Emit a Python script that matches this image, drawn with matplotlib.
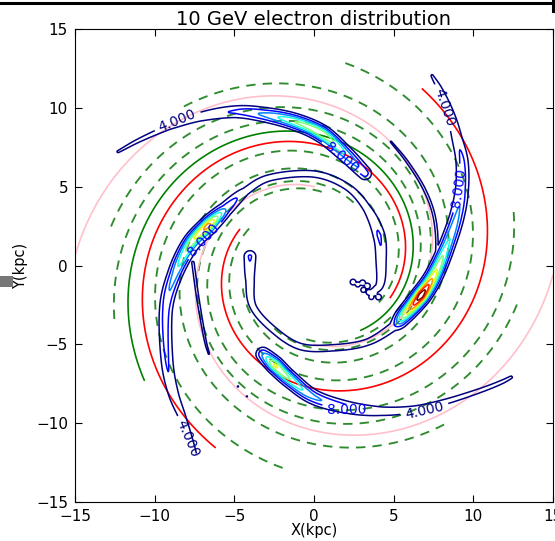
import numpy as np
import matplotlib
matplotlib.use("Agg")
import matplotlib.pyplot as plt
from matplotlib.patches import Rectangle
from matplotlib.lines import Line2D

# ---------------- spiral-arm model: theta(r) = theta0 + k ln(r / r0) ----------------
arm_k, arm_r0 = 5.0, 4.9                    # pitch shared by red, green and dashed arms
red_theta0 = [137.0, -40.0]                 # deg
red_rmin, red_rmax = 5.2, 13.1
green_theta0 = -63.0
green_rmin, green_rmax = 5.05, 12.9
dash_theta0 = [162.0, 96.0, 70.0, 30.0, -18.0, -84.0, -110.0, -150.0]
dash_rmin, dash_rmax = 4.7, 13.0

pink_k, pink_r0 = 4.25, 5.0
pink_theta0 = [-90.0, 90.0]
pink_rmin, pink_rmax = 5.0, 15.0

# ---------------- electron density ridges (kpc) with ridge values ----------------
e1_x = [3.55, 4.14, 4.21, 4.08, 3.33, 2.07, 0.00, -2.76, -4.33, -5.59, -6.65, -7.78, -8.73, -9.29, -9.23, -8.85, -8.22, -7.41]
e1_y = [-1.75, -1.20, 0.25, 1.90, 3.61, 5.00, 5.80, 5.57, 4.68, 3.54, 2.53, 1.33, -0.57, -2.78, -5.95, -8.04, -9.75, -12.09]
e1_a = [4.6, 5.5, 7.0, 8.6, 5.5, 5.0, 5.0, 5.0, 5.5, 12.0, 30.0, 22.0, 14.0, 10.0, 8.5, 7.0, 5.2, 4.1]

e2_x = [-4.02, -4.02, -3.83, -2.57, -0.88, 1.19, 3.33, 5.00, 5.65, 6.72, 7.53, 8.35, 8.98, 9.29, 9.29, 8.98, 8.60, 7.97, 7.41]
e2_y = [0.57, -0.89, -2.59, -4.05, -5.13, -5.22, -4.87, -3.86, -3.17, -1.90, -0.63, 1.27, 3.17, 4.88, 6.59, 8.05, 9.51, 11.03, 12.04]
e2_a = [8.5, 6.0, 5.0, 5.0, 5.0, 5.0, 5.0, 6.0, 22.0, 40.0, 26.0, 17.0, 13.0, 10.0, 9.0, 7.0, 5.5, 4.6, 4.1]

e3_x = [3.20, 1.95, 0.50, -1.19, -3.08, -4.96, -7.16, -9.04, -10.92, -12.30]
e3_y = [5.85, 7.10, 8.35, 9.11, 9.56, 9.75, 9.43, 8.80, 7.97, 7.22]
e3_a = [10.0, 16.0, 24.0, 20.0, 13.0, 8.5, 6.0, 4.6, 4.3, 4.1]

e4_x = [-3.20, -2.45, -1.51, 0.00, 2.07, 4.21, 6.28, 8.35, 10.48, 11.74, 12.37]
e4_y = [-5.63, -6.33, -7.22, -8.35, -8.99, -9.24, -9.11, -8.61, -7.91, -7.41, -7.09]
e4_a = [12.0, 25.0, 20.0, 13.0, 9.0, 6.0, 5.0, 4.6, 4.4, 4.3, 4.15]

r1_x = [4.83, 5.84, 6.90, 7.53, 7.72, 7.53, 7.22]
r1_y = [7.85, 6.59, 4.88, 3.17, 1.27, -0.19, -1.90]
r1_a = [4.1, 4.25, 4.3, 4.3, 4.3, 4.4, 6.0]

r2_x = [-7.60, -7.28, -6.84, -6.60]
r2_y = [0.19, -2.15, -4.68, -5.60]
r2_a = [4.3, 4.3, 4.2, 4.1]

# ragged patch at the inner end of the first ridge
knot_x = [2.45, 2.75, 3.05, 3.35, 3.10, 3.45, 3.80, 4.05, 3.60, 3.90]
knot_y = [-1.05, -1.20, -1.10, -1.30, -1.55, -1.70, -1.75, -2.00, -2.00, -1.45]
knot_a = [6.0, 5.5, 6.0, 6.0, 5.5, 6.0, 6.0, 6.0, 5.5, 6.0]
# isolated specks along the lower-left pink arm
speck_x = [-4.77, -4.21]
speck_y = [-7.67, -8.30]
speck_a = [4.25, 4.25]

levels = [4, 8, 12, 16, 20, 24, 28, 32, 36]

# anchor points for the 4.000 and 8.000 labels
lab4_pos = [(-8.54, 9.11), (8.20, 10.05), (-7.97, -11.0), (7.00, -9.45)]
lab8_pos = [(1.76, 6.90), (9.05, 4.90), (-7.16, 1.90), (2.07, -8.99)]


def spiral(k, r0, th0, rmin, rmax, n=700):
    r = np.linspace(rmin, rmax, n)
    th = np.deg2rad(th0) + k * np.log(r / r0)
    return r * np.cos(th), r * np.sin(th)


def smooth_track(xs, ys, amps, per_seg=40, step=0.02):
    """Catmull-Rom path through the ridge points, resampled by arc length."""
    P = np.column_stack([xs, ys]).astype(float)
    P = np.vstack([2 * P[0] - P[1], P, 2 * P[-1] - P[-2]])
    t = np.linspace(0, 1, per_seg, endpoint=False)[:, None]
    pts, us = [], []
    for i in range(1, len(P) - 2):
        p0, p1, p2, p3 = P[i - 1], P[i], P[i + 1], P[i + 2]
        seg = 0.5 * (2 * p1 + (-p0 + p2) * t + (2 * p0 - 5 * p1 + 4 * p2 - p3) * t ** 2
                     + (-p0 + 3 * p1 - 3 * p2 + p3) * t ** 3)
        pts.append(seg)
        us.append(i - 1 + t[:, 0])
    pts.append(P[-2][None, :]); us.append(np.array([len(xs) - 1.0]))
    pts = np.vstack(pts); us = np.concatenate(us)
    s = np.concatenate([[0.0], np.cumsum(np.hypot(*np.diff(pts, axis=0).T))])
    ss = np.linspace(0, s[-1], max(int(s[-1] / step), 2))
    px = np.interp(ss, s, pts[:, 0]); py = np.interp(ss, s, pts[:, 1])
    pa = np.interp(np.interp(ss, s, us), np.arange(len(xs)), amps)
    return px, py, pa


# density grid
n = 601
gx = np.linspace(-15, 15, n)
GX, GY = np.meshgrid(gx, gx)
Z = np.zeros_like(GX)
dg = gx[1] - gx[0]


def add_ridge(px, py, pa, w):
    half = int(4 * w / dg) + 1
    for x0, y0, a0 in zip(px, py, pa):
        i0 = int(round((y0 + 15) / dg)); j0 = int(round((x0 + 15) / dg))
        i1, i2 = max(i0 - half, 0), min(i0 + half + 1, n)
        j1, j2 = max(j0 - half, 0), min(j0 + half + 1, n)
        sub = a0 * np.exp(-((GX[i1:i2, j1:j2] - x0) ** 2 + (GY[i1:i2, j1:j2] - y0) ** 2) / (2 * w * w))
        Z[i1:i2, j1:j2] = np.maximum(Z[i1:i2, j1:j2], sub)


for tx, ty, ta, w in [(e1_x, e1_y, e1_a, 0.30), (e2_x, e2_y, e2_a, 0.30),
                      (e3_x, e3_y, e3_a, 0.30), (e4_x, e4_y, e4_a, 0.30),
                      (r1_x, r1_y, r1_a, 0.20), (r2_x, r2_y, r2_a, 0.20)]:
    add_ridge(*smooth_track(tx, ty, ta), w)
add_ridge(np.array(knot_x), np.array(knot_y), np.array(knot_a), 0.20)
add_ridge(np.array(speck_x), np.array(speck_y), np.array(speck_a), 0.12)

# ---------------- figure ----------------
plt.rcParams['font.family'] = ['DejaVu Sans']
fig = plt.figure(figsize=(5.55, 5.41), dpi=100)
ax = fig.add_axes([75 / 555, 1 - 502 / 541, 478 / 555, 473 / 541])

dash = (0, (5.0, 3.8))
for th0 in dash_theta0:
    ax.plot(*spiral(arm_k, arm_r0, th0, dash_rmin, dash_rmax), color='#2e8b2e', lw=1.35, linestyle=dash)
for th0 in pink_theta0:
    ax.plot(*spiral(pink_k, pink_r0, th0, pink_rmin, pink_rmax), color='pink', lw=1.2)
for th0 in red_theta0:
    ax.plot(*spiral(arm_k, arm_r0, th0, red_rmin, red_rmax), color='red', lw=1.2)
ax.plot(*spiral(arm_k, arm_r0, green_theta0, green_rmin, green_rmax), color='green', lw=1.2)

# contours: the two labelled levels on their own, the rest together
jet = plt.get_cmap('jet')
lev_colors = [jet(i / (len(levels) - 1)) for i in range(len(levels))]
cs4 = ax.contour(GX, GY, Z, levels=[levels[0]], colors=[lev_colors[0]], linewidths=1.1)
cs8 = ax.contour(GX, GY, Z, levels=[levels[1]], colors=[lev_colors[1]], linewidths=1.1)
ax.contour(GX, GY, Z, levels=levels[2:], colors=lev_colors[2:], linewidths=1.1)
ax.clabel(cs4, manual=lab4_pos, fmt='%.3f', fontsize=10, inline=True)
ax.clabel(cs8, manual=lab8_pos, fmt='%.3f', fontsize=10, inline=True)

ax.set_xlim(-15, 15)
ax.set_ylim(-15, 15)
ax.set_xticks(np.arange(-15, 16, 5))
ax.set_yticks(np.arange(-15, 16, 5))
ax.tick_params(direction='in', top=True, right=True, length=5, labelsize=11, pad=5)
ax.set_title('10 GeV electron distribution', fontsize=14, pad=3)
ax.set_xlabel('X(kpc)', fontsize=10.5)
ax.set_ylabel('Y(kpc)', fontsize=10.5)
ax.xaxis.set_label_coords(0.5, -0.045)
ax.yaxis.set_label_coords(-0.098, 0.5)

# frame edge and side marker
fig.add_artist(Line2D([0, 553 / 555], [1 - 2.5 / 541] * 2, color='black', lw=2.2))
fig.add_artist(Line2D([553 / 555] * 2, [1, 1 - 11 / 541], color='black', lw=2.2))
fig.add_artist(Rectangle((0, 1 - 287 / 541), 13 / 555, 11 / 541, color='#777777', lw=0))

fig.savefig('out.png', dpi=100)
